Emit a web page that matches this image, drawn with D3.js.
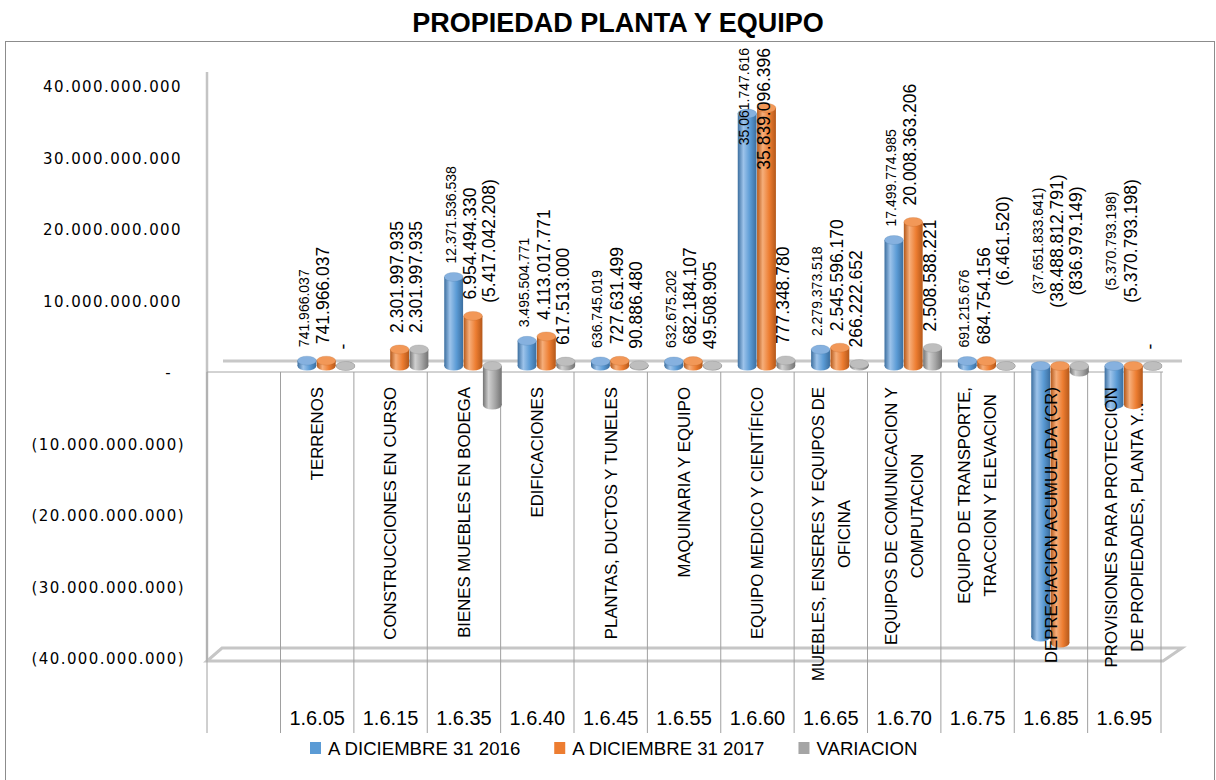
<!DOCTYPE html>
<html>
<head>
<meta charset="utf-8">
<script src="https://cdn.jsdelivr.net/npm/d3@7"></script>
<style>
  body { margin: 0; background: #fff; }
  svg { display: block; }
  text { font-family: "Liberation Sans", Arial, sans-serif; }
  text.wide { font-family: "DejaVu Sans", Verdana, sans-serif; }
</style>
</head>
<body>
<div id="chart"></div>
<script>
// codes shown in the bottom row of the data table
var codes = ["1.6.05", "1.6.15", "1.6.35", "1.6.40", "1.6.45", "1.6.55",
             "1.6.60", "1.6.65", "1.6.70", "1.6.75", "1.6.85", "1.6.95"];
// category names (one entry per line)
var names = [
  ["TERRENOS"],
  ["CONSTRUCCIONES EN CURSO"],
  ["BIENES MUEBLES EN BODEGA"],
  ["EDIFICACIONES"],
  ["PLANTAS, DUCTOS Y TUNELES"],
  ["MAQUINARIA Y EQUIPO"],
  ["EQUIPO MEDICO Y CIENTÍFICO"],
  ["MUEBLES, ENSERES Y EQUIPOS DE", "OFICINA"],
  ["EQUIPOS DE COMUNICACION Y", "COMPUTACION"],
  ["EQUIPO DE TRANSPORTE,", "TRACCION Y ELEVACION"],
  ["DEPRECIACION ACUMULADA (CR)"],
  ["PROVISIONES PARA PROTECCION", "DE PROPIEDADES,  PLANTA Y..."]
];
var dic2016 = [741966037, null, 12371536538, 3495504771, 636745019, 632675202,
               35061747616, 2279373518, 17499774985, 691215676, -37651833641, -5370793198];
var dic2017 = [741966037, 2301997935, 6954494330, 4113017771, 727631499, 682184107,
               35839096396, 2545596170, 20008363206, 684754156, -38488812791, -5370793198];
var variacion = [0, 2301997935, -5417042208, 617513000, 90886480, 49508905,
                 777348780, 266222652, 2508588221, -6461520, -836979149, 0];
var seriesNames = ["A DICIEMBRE 31 2016", "A DICIEMBRE 31 2017", "VARIACION"];
var yTicks = [-40e9, -30e9, -20e9, -10e9, 0, 10e9, 20e9, 30e9, 40e9];

var colors = [
  {base: "#5B9BD5", dark: "#3B6E9F", light: "#9DC3EA", cap: "#86B1DF"},
  {base: "#ED7D31", dark: "#B4581A", light: "#F6AE7A", cap: "#F29858"},
  {base: "#A5A5A5", dark: "#737373", light: "#D0D0D0", cap: "#BEBEBE"}
];

var data = codes.map(function(c, i) {
  return {code: c, names: names[i], values: [dic2016[i], dic2017[i], variacion[i]]};
});

// 1.234.567 style, negatives in parentheses, zero as "-"
var loc = d3.formatLocale({decimal: ",", thousands: ".", grouping: [3], currency: ["", ""]});
var fmt = loc.format(",.0f");
function fmtAcc(v) {
  if (v === 0) return "-";
  return v < 0 ? "(" + fmt(-v) + ")" : fmt(v);
}

var W = 1216, H = 780;
var svg = d3.select("#chart").append("svg")
  .attr("width", W)
  .attr("height", H);

svg.append("rect").attr("width", W).attr("height", H).attr("fill", "#fff");

// outer frame
svg.append("rect")
  .attr("x", 5.5).attr("y", 41.5)
  .attr("width", 1209).attr("height", 760)
  .attr("fill", "none")
  .attr("stroke", "#8C8C8C");

svg.append("text")
  .attr("x", 618).attr("y", 32)
  .attr("text-anchor", "middle")
  .attr("font-weight", "bold")
  .attr("font-size", 27)
  .text("PROPIEDAD PLANTA Y EQUIPO");

// scales
var x0 = d3.scaleBand().domain(codes).range([280.5, 1161]);
var x1 = d3.scaleBand().domain([0, 1, 2]).range([17, 75]);
var yAxis = d3.scaleLinear().domain([-40e9, 40e9]).range([659, 87]);
var yBar = d3.scaleLinear().domain([-40e9, 40e9]).range([654, 78]);

var defs = svg.append("defs");
colors.forEach(function(c, k) {
  var g = defs.append("linearGradient").attr("id", "cyl" + k)
    .attr("x1", 0).attr("x2", 1).attr("y1", 0).attr("y2", 0);
  g.append("stop").attr("offset", "0%").attr("stop-color", c.dark);
  g.append("stop").attr("offset", "30%").attr("stop-color", c.light);
  g.append("stop").attr("offset", "65%").attr("stop-color", c.base);
  g.append("stop").attr("offset", "100%").attr("stop-color", c.dark);
});

// back wall edge
var frontZero = yAxis(0) - 1;
var frontFloor = yAxis(-40e9) + 2;
svg.append("line")
  .attr("x1", 207).attr("x2", 207)
  .attr("y1", 72).attr("y2", frontFloor)
  .attr("stroke", "#C4C4C4").attr("stroke-width", 2.5);

// floor (3d slab at the bottom)
svg.append("path")
  .attr("d", "M222," + (frontFloor - 13) + "H1182L1163," + frontFloor + "H207Z")
  .attr("fill", "none")
  .attr("stroke", "#C6C6C6").attr("stroke-width", 3);

// zero plane
svg.append("line")
  .attr("x1", 223).attr("x2", 1182)
  .attr("y1", frontZero - 11).attr("y2", frontZero - 11)
  .attr("stroke", "#C8C8C8").attr("stroke-width", 3);

// data table grid
var tableBottom = 733;
svg.append("line")
  .attr("x1", 207).attr("x2", 1163)
  .attr("y1", frontZero).attr("y2", frontZero)
  .attr("stroke", "#A6A6A6");
var vLines = [207].concat(codes.map(function(c) { return x0(c); })).concat([x0.range()[1]]);
svg.selectAll(".vline")
  .data(vLines)
  .enter()
  .append("line")
  .attr("class", "vline")
  .attr("x1", function(d) { return d; })
  .attr("x2", function(d) { return d; })
  .attr("y1", frontZero)
  .attr("y2", tableBottom)
  .attr("stroke", "#A0A0A0");

// cylinders
var ry = 4.5;
var bw = x1.bandwidth() - 0.5;
var barsG = svg.append("g");
data.forEach(function(d) {
  d.values.forEach(function(v, k) {
    if (v === null) return;
    var bx = x0(d.code) + x1(k);
    var yTop = yBar(Math.max(v, 0));
    var yBot = yBar(Math.min(v, 0));
    barsG.append("rect")
      .attr("x", bx).attr("y", yTop)
      .attr("width", bw).attr("height", yBot - yTop)
      .attr("fill", "url(#cyl" + k + ")");
    barsG.append("ellipse")
      .attr("cx", bx + bw / 2).attr("cy", yBot)
      .attr("rx", bw / 2).attr("ry", ry)
      .attr("fill", "url(#cyl" + k + ")");
    barsG.append("ellipse")
      .attr("cx", bx + bw / 2).attr("cy", yTop)
      .attr("rx", bw / 2).attr("ry", ry)
      .attr("fill", colors[k].cap)
      .attr("stroke", colors[k].dark).attr("stroke-opacity", 0.35).attr("stroke-width", 0.6);
  });
});

// value labels (rotated)
var labelsG = svg.append("g");
data.forEach(function(d) {
  d.values.forEach(function(v, k) {
    if (v === null) return;
    var lbl = labelsG.append("text")
      .attr("font-size", k === 0 ? 14 : 17.5)
      .attr("fill", "#000")
      .attr("dy", "0.35em")
      .text(fmtAcc(v));
    var len = lbl.node().getComputedTextLength();
    var lx = x0(d.code) + x1(k) + bw / 2 - 3;
    var start;
    if (v >= 0) {
      start = yBar(v) - ry - (k === 0 ? 9 : 12);
      if (start - len < 48) start = 48 + len;
    } else {
      start = yBar(0) - 125 + len / 2;
    }
    lbl.attr("transform", "translate(" + lx + "," + start + ") rotate(-90)");
  });
});

// category names in the table
var catG = svg.append("g");
data.forEach(function(d) {
  var cx = x0(d.code) + x0.bandwidth() / 2;
  var n = d.names.length;
  var texts = d.names.map(function(line, j) {
    return catG.append("text")
      .attr("font-size", 16.8)
      .attr("fill", "#000")
      .attr("text-anchor", "middle")
      .attr("dy", "0.35em")
      .text(line);
  });
  var maxLen = d3.max(texts, function(t) { return t.node().getComputedTextLength(); });
  var cy = frontZero + 15 + maxLen / 2;
  texts.forEach(function(t, j) {
    var lx = cx + (j - (n - 1) / 2) * 26;
    t.attr("transform", "translate(" + lx + "," + cy + ") rotate(-90)");
  });
});

// codes row
svg.selectAll(".code")
  .data(codes)
  .enter()
  .append("text")
  .attr("class", "code")
  .attr("x", function(c) { return x0(c) + x0.bandwidth() / 2; })
  .attr("y", 718)
  .attr("dy", "0.35em")
  .attr("text-anchor", "middle")
  .attr("font-size", 20)
  .attr("fill", "#000")
  .text(function(c) { return c; });

// y axis labels
var axisG = svg.append("g")
  .attr("transform", "translate(185,0)")
  .call(d3.axisLeft(yAxis).tickValues(yTicks).tickFormat(fmtAcc).tickSize(0).tickPadding(0));
axisG.select(".domain").remove();
axisG.attr("font-size", 15);
axisG.selectAll("text")
  .attr("class", "wide")
  .attr("fill", "#000")
  .attr("letter-spacing", 1.4)
  .attr("x", function(d) { return d < 0 ? 0 : (d > 0 ? -3 : -13); });

// legend
var legX = 310, legY = 748;
seriesNames.forEach(function(name, k) {
  svg.append("rect")
    .attr("x", legX).attr("y", legY - 6)
    .attr("width", 11).attr("height", 12)
    .attr("fill", colors[k].base);
  var t = svg.append("text")
    .attr("x", legX + 18).attr("y", legY)
    .attr("dy", "0.35em")
    .attr("font-size", 18.6)
    .attr("fill", "#000")
    .text(name);
  legX += 18 + t.node().getComputedTextLength() + 34;
});
</script>
</body>
</html>
